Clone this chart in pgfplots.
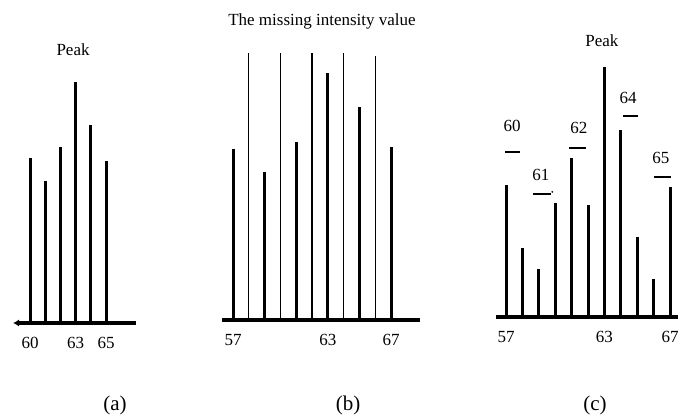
\documentclass[border=0pt]{standalone}
\usepackage{fontspec}
\setmainfont{Liberation Serif}
\usepackage{pgfplots}
\pgfplotsset{compat=1.18}
\usetikzlibrary{arrows.meta}
\newcommand{\fs}{\fontsize{17}{19}\selectfont}
\newcommand{\fc}{\fontsize{21}{24}\selectfont}
\pgfplotsset{panel/.style={
  scale only axis, y=1pt, ymin=0, ymax=290,
  axis x line=bottom, axis y line=none,
  x axis line style={line width=4pt,-},
  major tick length=0pt,
  xticklabel style={font=\fs, yshift=-11pt},
  /pgf/number format/assume math mode=true,
  clip=false, anchor=south west}}
\begin{document}
\begin{tikzpicture}
\path[use as bounding box] (0,0) rectangle (678pt,419pt);
% (a)
\begin{axis}[panel, at={(13pt,96pt)}, x=15.2pt, xmin=58.88, xmax=66.97,
  xtick={60,63,65},
  x axis line style={line width=4pt,{Latex[length=6pt,width=7pt]}-}]
\addplot[ycomb, black, line width=3pt] coordinates {
 (60,165) (61,142) (62,176) (63,241) (64,198) (65,162)};
\node[font=\fs] at (axis cs:62.83,273) {Peak};
\end{axis}
% (b)
\begin{axis}[panel, at={(222pt,99pt)}, x=15.8pt, xmin=56.30, xmax=68.84,
  xtick={57,63,67}]
\addplot[ycomb, black, line width=3pt] coordinates {
 (57,171) (59,148) (61,178) (63,247) (65,213) (67,173)};
\addplot[ycomb, black, line width=1.2pt] coordinates {
 (58,267) (60,267) (62,267) (64,267) (66,264)};
\node[font=\fs] at (axis cs:62.63,299) {The missing intensity value};
\end{axis}
% (c)
\begin{axis}[panel, at={(496pt,102pt)}, x=16.4pt, xmin=56.39, xmax=67.49,
  xtick={57,63,67}]
\addplot[ycomb, black, line width=3pt] coordinates {
 (57,132) (58,69) (59,48) (60,114) (61,159) (62,112)
 (63,250) (64,187) (65,80) (66,38) (67,130)};
\node[font=\fs] at (axis cs:62.85,276) {Peak};
\node[font=\fs] at (axis cs:57.37,191) {60};
\draw[black, line width=1.5pt] (axis cs:56.94,165) -- (axis cs:57.85,165);
\node[font=\fs] at (axis cs:59.13,142) {61};
\draw[black, line width=1.5pt] (axis cs:58.65,123) -- (axis cs:59.74,123);
\fill[black] (axis cs:59.82,125) circle (1pt);
\node[font=\fs] at (axis cs:61.45,189) {62};
\draw[black, line width=1.5pt] (axis cs:60.84,169) -- (axis cs:61.88,169);
\node[font=\fs] at (axis cs:64.44,219) {64};
\draw[black, line width=1.5pt] (axis cs:64.13,201) -- (axis cs:65.05,201);
\node[font=\fs] at (axis cs:66.45,159) {65};
\draw[black, line width=1.5pt] (axis cs:66.02,140) -- (axis cs:67.06,140);
\end{axis}
\node[font=\fc] at (115pt,14pt) {(a)};
\node[font=\fc] at (348pt,14pt) {(b)};
\node[font=\fc] at (595pt,14pt) {(c)};
\end{tikzpicture}
\end{document}
